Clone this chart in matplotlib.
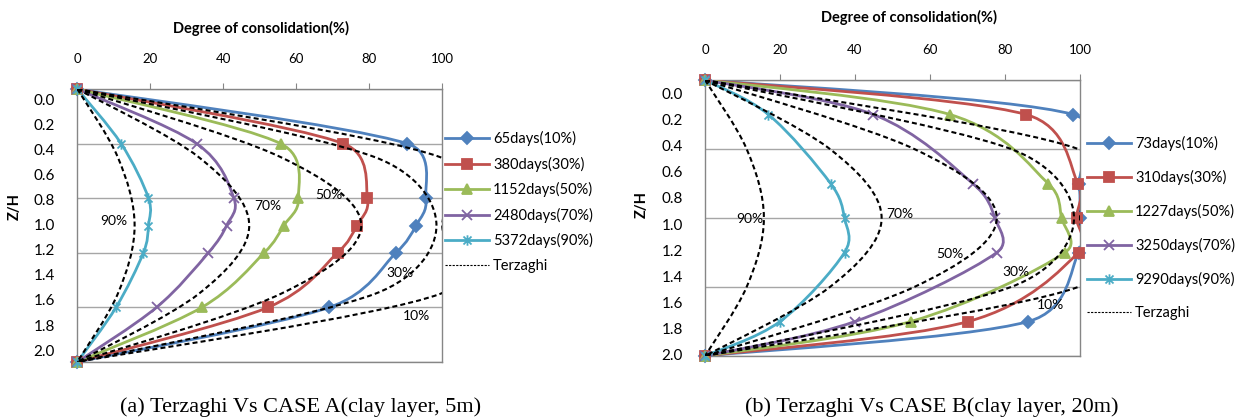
import numpy as np
import matplotlib
matplotlib.use("Agg")
import matplotlib.pyplot as plt
from matplotlib.path import Path
from matplotlib.patches import PathPatch
from matplotlib.lines import Line2D

plt.rcParams["font.family"] = ["Lato", "DejaVu Sans"]

# depths (Z/H) of the measured points
depth_a = [0.0, 0.4, 0.8, 1.0, 1.2, 1.6, 2.0]
depth_b = [0.0, 0.25, 0.75, 1.0, 1.25, 1.75, 2.0]
depth_terz = [0.0, 0.5, 1.0, 1.5, 2.0]

# CASE A (clay layer 5m)
labels_a = ["65days(10%)", "380days(30%)", "1152days(50%)", "2480days(70%)", "5372days(90%)"]
case_a_65 = [0, 90.4, 95.5, 92.8, 87.3, 69.0, 0]
case_a_380 = [0, 72.9, 79.5, 76.6, 71.3, 52.2, 0]
case_a_1152 = [0, 55.7, 60.6, 56.6, 51.2, 34.1, 0]
case_a_2480 = [0, 32.7, 42.9, 40.9, 35.9, 21.7, 0]
case_a_5372 = [0, 12.0, 19.5, 19.5, 18.1, 10.6, 0]

# CASE B (clay layer 20m)
labels_b = ["73days(10%)", "310days(30%)", "1227days(50%)", "3250days(70%)", "9290days(90%)"]
case_b_73 = [0, 98.2, 99.8, 100.0, 99.6, 86.2, 0]
case_b_310 = [0, 85.6, 99.4, 99.1, 99.6, 70.2, 0]
case_b_1227 = [0, 65.3, 91.5, 95.1, 96.0, 54.9, 0]
case_b_3250 = [0, 44.9, 71.4, 77.3, 77.8, 40.0, 0]
case_b_9290 = [0, 16.9, 33.5, 37.2, 37.2, 20.0, 0]

# Terzaghi isochrones
terz_labels = ["10%", "30%", "50%", "70%", "90%"]
terz_10 = [0, 99.5, 100, 99.5, 0]
terz_30 = [0, 81.6, 98.4, 81.6, 0]
terz_50 = [0, 55.8, 77.8, 55.8, 0]
terz_70 = [0, 33.3, 47.1, 33.3, 0]
terz_90 = [0, 11.1, 15.7, 11.1, 0]

colors = ["#4F81BD", "#C0504D", "#9BBB59", "#8064A2", "#4BACC6"]
star = Path([(-1, -1), (1, 1), (-1, 1), (1, -1), (0, -1.3), (0, 1.3)],
            [Path.MOVETO, Path.LINETO, Path.MOVETO, Path.LINETO, Path.MOVETO, Path.LINETO])
marks = [("D", 6.0), ("s", 7.5), ("^", 7.5), ("x", 7.5), (star, 7.5)]


def smooth_path(ax, x, y):
    """Excel-style smoothed line: Catmull-Rom bezier with handles capped at half a segment."""
    pts = ax.transData.transform(np.column_stack([x, y]).astype(float))
    n = len(pts)
    verts = [pts[0]]
    codes = [Path.MOVETO]
    for i in range(n - 1):
        p1, p2 = pts[i], pts[i + 1]
        p0 = pts[i - 1] if i > 0 else p1
        p3 = pts[i + 2] if i + 2 < n else p2
        d12 = np.hypot(*(p2 - p1))
        d02 = np.hypot(*(p2 - p0))
        d13 = np.hypot(*(p3 - p1))
        f1 = f2 = 1 / 6
        if d02 > 0 and d02 / 6 >= d12 / 2:
            f1 = d12 / 2 / d02
        if d13 > 0 and d13 / 6 >= d12 / 2:
            f2 = d12 / 2 / d13
        verts += [p1 + f1 * (p2 - p0), p2 - f2 * (p3 - p1), p2]
        codes += [Path.CURVE4] * 3
    return Path(ax.transData.inverted().transform(np.array(verts)), codes)


def draw_panel(rect, depth, series, labels, grid_step, label_lim, terz_pos,
               title_xy, caption, caption_xy, zh_xy, legend_xy, legend_space):
    ax = fig.add_axes(rect)
    lab = fig.add_axes(rect, zorder=-1)

    ax.set_xlim(0, 100)
    ax.set_ylim(2.0, 0.0)

    for vals, c, (m, ms) in zip(series, colors, marks):
        ax.add_patch(PathPatch(smooth_path(ax, vals, depth), fill=False, edgecolor=c,
                               lw=2.0, zorder=3))
        ax.plot(vals, depth, ls="none", marker=m, ms=ms, color=c, mec=c,
                mew=1.3, clip_on=False, zorder=4)

    for vals in [terz_10, terz_30, terz_50, terz_70, terz_90]:
        ax.add_patch(PathPatch(smooth_path(ax, vals, depth_terz), fill=False,
                               edgecolor="black", lw=1.5, ls=(0, (2.4, 1.5)), zorder=5))
    for t, (tx, ty) in zip(terz_labels, terz_pos):
        ax.text(tx, ty, t, fontsize=10, ha="center", va="center", zorder=6)

    ax.xaxis.tick_top()
    ax.set_xticks(np.arange(0, 101, 20))
    ax.tick_params(axis="x", length=4, color="#868686", pad=13, labelsize=9.5)
    ax.set_yticks(np.arange(0, 2.01, grid_step))
    ax.tick_params(axis="y", length=0, labelleft=False)
    ax.grid(axis="y", color="#A6A6A6", lw=1.0)
    ax.set_axisbelow(True)
    for s in ax.spines.values():
        s.set_color("#868686")
        s.set_linewidth(1.0)
    ax.patch.set_alpha(0)

    # separate axis carrying the Z/H labels
    lab.set_ylim(*label_lim)
    lab.set_yticks(np.arange(0, 2.01, 0.2))
    lab.set_yticklabels([f"{v:.1f}" for v in np.arange(0, 2.01, 0.2)])
    lab.tick_params(axis="y", length=0, pad=16, labelsize=11)
    lab.set_xticks([])
    for s in lab.spines.values():
        s.set_visible(False)

    fig.text(*title_xy, "Degree of consolidation(%)", fontsize=10.5, fontweight="bold",
             ha="center", va="center")
    fig.text(*zh_xy, "Z/H", fontsize=10.5, fontweight="bold", rotation=90,
             ha="center", va="center")
    fig.text(*caption_xy, caption, fontsize=16, family="Liberation Serif",
             ha="center", va="center")

    handles = [Line2D([], [], color=c, lw=2.0, marker=m, ms=ms, mew=1.3)
               for c, (m, ms) in zip(colors, marks)]
    handles.append(Line2D([], [], color="black", lw=0.8, ls=(0, (2, 1.2))))
    fig.legend(handles, labels + ["Terzaghi"], loc="upper left",
               bbox_to_anchor=legend_xy, frameon=False, fontsize=10.5,
               handlelength=3.0, handletextpad=0.3, labelspacing=legend_space,
               borderpad=0, borderaxespad=0)


W, H = 1241, 420
fig = plt.figure(figsize=(W / 100, H / 100), dpi=100)

draw_panel([77.3 / W, 1 - 362 / H, 365 / W, 273 / H], depth_a,
           [case_a_65, case_a_380, case_a_1152, case_a_2480, case_a_5372], labels_a,
           0.4, (2.095, -0.082),
           [(93.0, 1.66), (88.4, 1.35), (68.8, 0.78), (52.3, 0.86), (9.9, 0.97)],
           (261 / W, 1 - 28 / H), "(a) Terzaghi Vs CASE A(clay layer, 5m)",
           (301 / W, 1 - 407 / H), (15 / W, 1 - 207 / H),
           (445 / W, 1 - 131 / H), 0.72)

draw_panel([705 / W, 1 - 356 / H, 375 / W, 276 / H], depth_b,
           [case_b_73, case_b_310, case_b_1227, case_b_3250, case_b_9290], labels_b,
           0.5, (2.008, -0.102),
           [(92.0, 1.63), (82.9, 1.39), (65.3, 1.26), (52.0, 0.97), (12.0, 1.01)],
           (909 / W, 1 - 17 / H), "(b) Terzaghi Vs CASE B(clay layer, 20m)",
           (932 / W, 1 - 407 / H), (642 / W, 1 - 205 / H),
           (1087 / W, 1 - 136 / H), 1.3)

fig.savefig("out.png", dpi=100)
